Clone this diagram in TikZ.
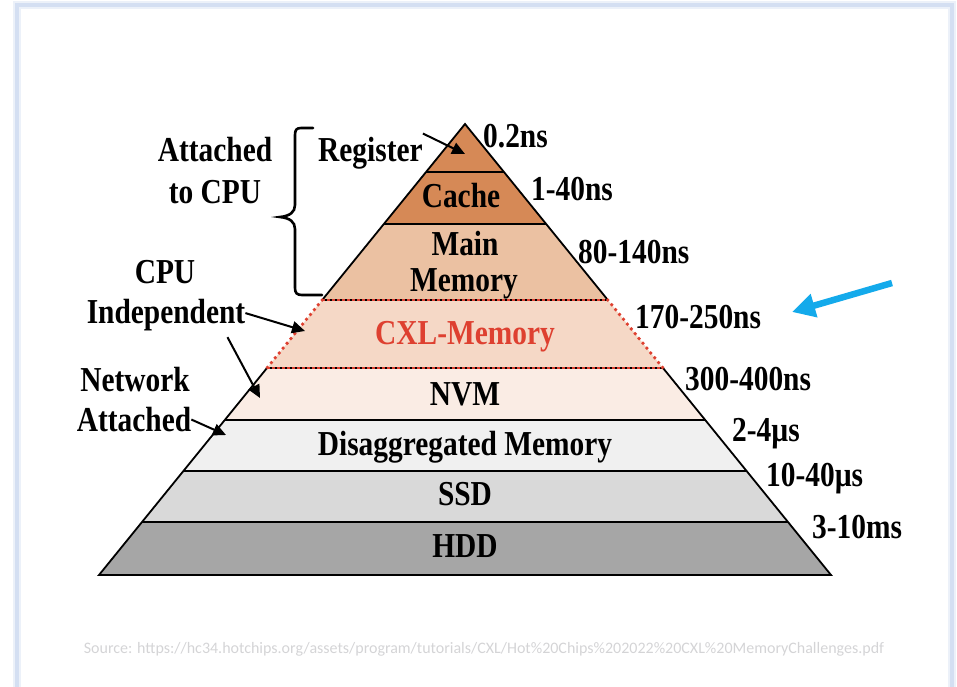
\documentclass[tikz,border=0pt]{standalone}
\usepackage{fontspec}
\setmainfont{Liberation Serif}[FakeStretch=0.84]
\newfontfamily\srcfont{Carlito}
\usetikzlibrary{arrows.meta}

\definecolor{regc}{RGB}{214,137,86}
\definecolor{mainc}{RGB}{235,193,162}
\definecolor{cxlc}{RGB}{245,216,198}
\definecolor{nvmc}{RGB}{250,236,228}
\definecolor{disc}{RGB}{240,240,240}
\definecolor{ssdc}{RGB}{217,217,217}
\definecolor{hddc}{RGB}{166,166,166}
\definecolor{cxlred}{RGB}{222,64,48}
\definecolor{framec}{RGB}{212,223,242}
\definecolor{hint}{RGB}{212,212,214}
\definecolor{callout}{RGB}{20,170,235}

\begin{document}
\begin{tikzpicture}[x=1pt,y=-1pt,
  lab/.style={font=\fontsize{35}{38}\selectfont\bfseries, inner sep=0pt, anchor=base},
  rlab/.style={lab, anchor=base west},
  edge/.style={line width=1.8pt, line join=miter},
  ptr/.style={line width=2pt, -{Triangle[length=13pt,width=12pt]}},
  reddash/.style={cxlred, line width=2.6pt, dash pattern=on 2.6pt off 2.4pt},
  reddots/.style={cxlred, line width=3.8pt, line cap=round, dash pattern=on 0pt off 6.2pt},
  calloutarrow/.style={callout, line width=6.5pt, -{Triangle[length=23pt,width=23pt]}}]

\useasboundingbox (0,0) rectangle (957,686);

% page frame
\draw[framec!45, line width=8pt] (17,700) -- (17,5) -- (952,5) -- (952,700);
\draw[framec, line width=3.5pt] (17,700) -- (17,5) -- (952,5) -- (952,700);

% pyramid bands
\fill[regc]  (465,124) -- (503.95,172) -- (426.05,172) -- cycle;
\fill[regc]  (426.05,172) -- (503.95,172) -- (546.15,224) -- (383.85,224) -- cycle;
\fill[mainc] (383.85,224) -- (546.15,224) -- (607.83,300) -- (322.17,300) -- cycle;
\fill[cxlc]  (322.17,300) -- (607.83,300) -- (663.01,368) -- (266.99,368) -- cycle;
\fill[nvmc]  (266.99,368) -- (663.01,368) -- (705.21,420) -- (224.79,420) -- cycle;
\fill[disc]  (224.79,420) -- (705.21,420) -- (746.60,471) -- (183.40,471) -- cycle;
\fill[ssdc]  (183.40,471) -- (746.60,471) -- (787.99,522) -- (142.01,522) -- cycle;
\fill[hddc]  (142.01,522) -- (787.99,522) -- (831,575) -- (99,575) -- cycle;

% outline and band borders
\draw[edge] (322.17,300) -- (465,124) -- (607.83,300);
\draw[edge] (266.99,368) -- (99,575) -- (831,575) -- (663.01,368);
\draw[edge] (426.05,172) -- (503.95,172);
\draw[edge] (383.85,224) -- (546.15,224);
\draw[edge] (224.79,420) -- (705.21,420);
\draw[edge] (183.40,471) -- (746.60,471);
\draw[edge] (142.01,522) -- (787.99,522);
\draw[edge] (322.17,300) -- (607.83,300);
\draw[edge] (266.99,368) -- (663.01,368);

% CXL band highlight
\draw[reddash] (322.17,300) -- (607.83,300);
\draw[reddash] (266.99,368) -- (663.01,368);
\draw[reddots] (322.17,300) -- (266.99,368);
\draw[reddots] (607.83,300) -- (663.01,368);

% band labels
\node[lab] (cache)  at (461,207.5) {Cache};
\node[lab] (main)   at (465,255)   {Main};
\node[lab] (memory) at (464,291.5) {Memory};
\node[lab, text=cxlred] (cxl) at (465,344.5) {CXL-Memory};
\node[lab] (nvm)    at (465,405)   {NVM};
\node[lab] (dis)    at (465,455.5) {Disaggregated Memory};
\node[lab] (ssd)    at (465,505.5) {SSD};
\node[lab] (hdd)    at (465,557.5) {HDD};

% latencies
\node[rlab] (l02)   at (483,147) {0.2ns};
\node[rlab] (l140)  at (531,200) {1-40ns};
\node[rlab] (l80)   at (578,263) {80-140ns};
\node[rlab] (l170)  at (635,328) {170-250ns};
\node[rlab] (l300)  at (685,390) {300-400ns};
\node[rlab] (l24)   at (732,441) {2-4µs};
\node[rlab] (l1040) at (766,486) {10-40µs};
\node[rlab] (l310)  at (812,538) {3-10ms};

% left-hand groups
\node[rlab] (reg)   at (318,161)   {Register};
\node[lab]  (att1)  at (215,161.5) {Attached};
\node[lab]  (tocpu) at (215,203)   {to CPU};
\node[lab]  (cpu)   at (165,283)   {CPU};
\node[lab]  (ind)   at (166,323.5) {Independent};
\node[lab]  (net)   at (135,391.5) {Network};
\node[lab]  (att2)  at (134,431.5) {Attached};

% brace for the CPU-attached levels
\draw[line width=2.6pt, line cap=round]
  (313,128) -- (301,128) .. controls (296.5,128) and (295,130) .. (295,135)
  -- (295,205) .. controls (295,212) and (290,216) .. (280,217)
  .. controls (290,218) and (295,222) .. (295,229)
  -- (295,288) .. controls (295,293) and (297,295) .. (302,295) -- (322,295);

% pointers into the pyramid
\coordinate (regtip)  at (465,154);
\coordinate (cxlleft) at (305,331);
\coordinate (nvmleft) at (260,398);
\coordinate (disleft) at (226,435);
\draw[ptr] ([yshift=3]reg.north east) -- (regtip);
\draw[ptr] ([yshift=2]ind.east) -- (cxlleft);
\draw[ptr] ([shift={(-18,6)}]ind.south east) -- (nvmleft);
\draw[ptr] (att2.east) -- (disleft);

% callout arrow
\coordinate (calltail) at (892,283);
\coordinate (calltip)  at (792,312);
\draw[calloutarrow] (calltail) -- (calltip);

% source line
\node[font=\srcfont\fontsize{16}{19}\selectfont, text=hint] (src) at (484,649)
  {Source: https://hc34.hotchips.org/assets/program/tutorials/CXL/Hot\%20Chips\%202022\%20CXL\%20MemoryChallenges.pdf};
\end{tikzpicture}
\end{document}
